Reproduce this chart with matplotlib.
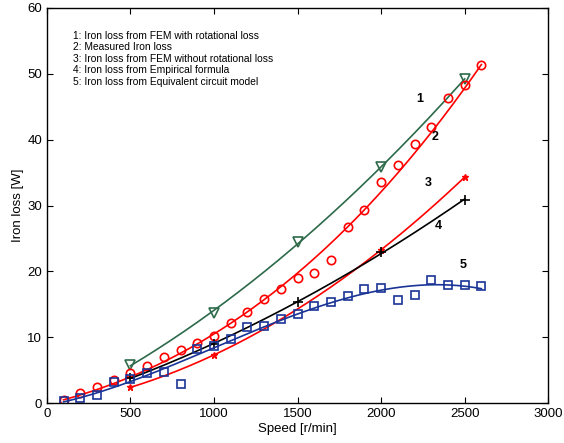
import numpy as np
import matplotlib.pyplot as plt

plt.rcParams['font.family'] = ['Liberation Sans', 'DejaVu Sans']

# speeds [r/min]
speed_fem = [500, 1000, 1500, 2000, 2500]
speed_meas = [100, 200, 300, 400, 500, 600, 700, 800, 900, 1000, 1100, 1200, 1300,
              1400, 1500, 1600, 1700, 1800, 1900, 2000, 2100, 2200, 2300, 2400, 2500, 2600]
speed_norot = [500, 1000, 2000, 2500]
speed_emp = [500, 1000, 1500, 2000, 2500]

# iron loss [W]
loss_fem_rot = [5.8, 13.7, 24.5, 35.8, 49.2]
loss_meas = [0.5, 1.5, 2.5, 3.5, 4.5, 5.7, 7.0, 8.0, 9.2, 10.2, 12.2, 13.8, 15.8,
             17.3, 19.0, 19.8, 21.7, 26.7, 29.4, 33.6, 36.2, 39.3, 41.9, 46.3, 48.3, 51.4]
loss_fem_norot = [2.4, 7.3, 23.3, 34.3]
loss_emp = [3.8, 9.0, 15.3, 22.9, 30.9]
loss_eq = [0.3, 0.8, 1.3, 3.2, 3.7, 4.5, 4.7, 2.9, 8.2, 8.7, 9.8, 11.5, 11.7,
           12.7, 13.6, 14.8, 15.4, 16.2, 17.3, 17.5, 15.7, 16.4, 18.7, 17.9, 18.0, 17.8]

legend_lines = ["1: Iron loss from FEM with rotational loss",
                "2: Measured Iron loss",
                "3: Iron loss from FEM without rotational loss",
                "4: Iron loss from Empirical formula",
                "5: Iron loss from Equivalent circuit model"]

green = '#2d6a4a'
blue = '#1a3496'

fig = plt.figure(figsize=(5.64, 4.43), dpi=100)
ax = fig.add_axes([0.083, 0.090, 0.889, 0.892])


def fit_curve(x, y, deg, pin_ends=False):
    # least-squares trend line; optionally pinned to the first and last points
    w = np.ones(len(x))
    if pin_ends:
        w[0] = w[-1] = 20.0
    c = np.polyfit(x, y, deg, w=w)
    xs = np.linspace(x[0], x[-1], 200)
    return xs, np.polyval(c, xs)


xs, ys = fit_curve(speed_fem, loss_fem_rot, 2)
ax.plot(xs, ys, color=green, lw=1.2)
ax.plot(speed_fem, loss_fem_rot, 'v', color=green, mfc='none', ms=7, mew=1.2)

xs, ys = fit_curve(speed_meas, loss_meas, 3, pin_ends=True)
ax.plot(xs, ys, color='red', lw=1.2)
ax.plot(speed_meas, loss_meas, 'o', color='red', mfc='none', ms=6, mew=1.2)

xs, ys = fit_curve(speed_norot, loss_fem_norot, 2)
ax.plot(xs, ys, color='red', lw=1.2)
ax.plot(speed_norot, loss_fem_norot, '*', color='red', ms=5, mew=1.0)

xs, ys = fit_curve(speed_emp, loss_emp, 2)
ax.plot(xs, ys, color='black', lw=1.2)
ax.plot(speed_emp, loss_emp, '+', color='black', ms=7, mew=1.2)

xs, ys = fit_curve(speed_meas, loss_eq, 3)
ax.plot(xs, ys, color=blue, lw=1.2)
ax.plot(speed_meas, loss_eq, 's', color=blue, mfc='none', ms=6, mew=1.2)

# curve numbers
for lbl, x, y in [('1', 2234, 46.2), ('2', 2323, 40.4), ('3', 2281, 33.4),
                  ('4', 2341, 26.9), ('5', 2491, 21.0)]:
    ax.text(x, y, lbl, fontsize=9, fontweight='bold', ha='center', va='center')

for i, line in enumerate(legend_lines):
    ax.text(155, 55.8 - i * 1.76, line, fontsize=7.4, va='center')

ax.set_xlim(0, 3000)
ax.set_ylim(0, 60)
ax.set_xticks(range(0, 3001, 500))
ax.set_yticks(range(0, 61, 10))
ax.tick_params(direction='in', top=True, right=True, labelsize=9.5, length=4)
for s in ax.spines.values():
    s.set_linewidth(1.0)
ax.set_xlabel('Speed [r/min]', fontsize=9.5, labelpad=2)
ax.set_ylabel('Iron loss [W]', fontsize=9.5, labelpad=2)

fig.savefig('out.png', dpi=100)
